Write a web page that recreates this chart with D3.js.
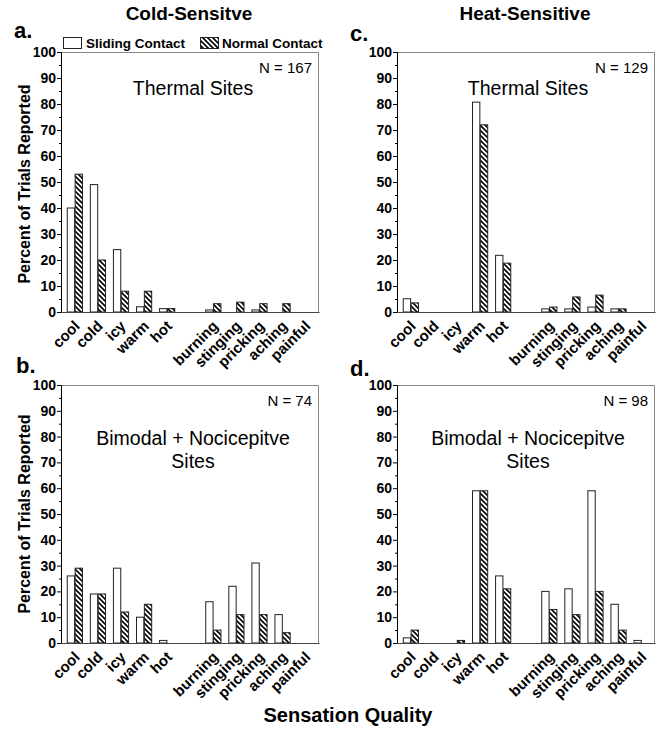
<!DOCTYPE html>
<html><head><meta charset="utf-8">
<script src="https://cdn.jsdelivr.net/npm/d3@7"></script>
<style>body{margin:0;background:#fff} svg{display:block}</style>
</head><body>
<script>
// ---- data ----
const categories = ["cool","cold","icy","warm","hot","burning","stinging","pricking","aching","painful"];
const seriesNames = ["Sliding Contact","Normal Contact"];
const coldThermalSliding = [40, 49, 24, 2, 1.3, 0.8, 0, 0.8, 0, 0];
const coldThermalNormal  = [53, 20, 8, 8, 1.3, 3.2, 3.8, 3.2, 3.2, 0];
const heatThermalSliding = [5.1, 0, 0, 80.7, 21.8, 1.2, 1.2, 1.9, 1.2, 0];
const heatThermalNormal  = [3.5, 0, 0, 72, 18.8, 1.9, 5.8, 6.5, 1.2, 0];
const coldBimodalSliding = [26, 19, 29, 10, 1, 16, 22, 31, 11, 0];
const coldBimodalNormal  = [29, 19, 12, 15, 0, 5, 11, 11, 4, 0];
const heatBimodalSliding = [2, 0, 0, 59, 26, 20, 21, 59, 15, 1];
const heatBimodalNormal  = [5, 0, 1, 59, 21, 13, 11, 20, 5, 0];
const yTicks = [0,10,20,30,40,50,60,70,80,90,100];
const yMinorTicks = [5,15,25,35,45,55,65,75,85,95];
const columnTitles = ["Cold-Sensitve","Heat-Sensitive"];

const FONT = "'Liberation Sans', Arial, Helvetica, sans-serif";
const W = 664, H = 732;
const svg = d3.select("body").append("svg").attr("width", W).attr("height", H)
  .style("font-family", FONT);

// hatch pattern
const P = 5;
const defs = svg.append("defs");
const pat = defs.append("pattern").attr("id","hatch").attr("patternUnits","userSpaceOnUse")
  .attr("width",P).attr("height",P);
pat.append("rect").attr("width",P).attr("height",P).attr("fill","#fff");
pat.append("path").attr("d",`M-1,-1 L${P+1},${P+1} M-1,${P-1} L1,${P+1} M${P-1},-1 L${P+1},1`)
  .attr("stroke","#000").attr("stroke-width",1.6);

const slots = categories.slice(0,5).concat(["__gap"], categories.slice(5));

function drawPanel(p){
  const g = svg.append("g").attr("transform",`translate(${p.x},${p.y})`);
  const x = d3.scaleBand().domain(slots).range([0,p.w]).paddingInner(0.32).paddingOuter(0.25);
  const xs = d3.scaleBand().domain(seriesNames).range([0,x.bandwidth()]);
  const y = d3.scaleLinear().domain([0,100]).range([p.h,0]);

  // frame top/right
  g.append("path").attr("d",`M0,0.5 H${p.w-0.5} V${p.h}`).attr("fill","none").attr("stroke","#888").attr("stroke-width",1);

  // bars
  const data = [];
  categories.forEach((c,i)=>{
    data.push({c, s:seriesNames[0], v:p.sliding[i]});
    data.push({c, s:seriesNames[1], v:p.normal[i]});
  });
  g.selectAll("rect.bar").data(data.filter(d=>d.v>0)).join("rect").attr("class","bar")
    .attr("x", d=>x(d.c)+xs(d.s)+0.5)
    .attr("width", xs.bandwidth()-0.5)
    .attr("y", d=>y(d.v))
    .attr("height", d=>p.h-y(d.v))
    .attr("fill", d=>d.s===seriesNames[0] ? "#fff" : "url(#hatch)")
    .attr("stroke","#222").attr("stroke-width",1);

  // y axis
  const ya = g.append("g").call(d3.axisLeft(y).tickValues(yTicks).tickSize(4).tickPadding(1).tickFormat(d3.format("d")));
  ya.select(".domain").attr("stroke","#000");
  ya.selectAll("text").attr("font-family",FONT).attr("font-weight","bold").attr("font-size",14).attr("fill","#000");
  g.append("g").selectAll("line").data(yMinorTicks).join("line")
    .attr("x1",-2).attr("x2",0).attr("y1",d=>y(d)+0.5).attr("y2",d=>y(d)+0.5).attr("stroke","#000");

  // x axis
  const xa = g.append("g").attr("transform",`translate(0,${p.h})`)
    .call(d3.axisBottom(x).tickValues(categories).tickSize(0).tickFormat(""));
  xa.select(".domain").attr("stroke","#444");
  g.append("g").selectAll("text").data(categories).join("text")
    .attr("transform", d=>`translate(${x(d)+x.bandwidth()/2+6},${p.h+15}) rotate(-45)`)
    .attr("text-anchor","end").attr("font-weight","bold").attr("font-size",15).text(d=>d);

  // annotations
  g.append("text").attr("x",p.w-7).attr("y",21).attr("text-anchor","end").attr("font-size",15).text(p.n);
  p.site.forEach((t,i)=>{
    g.append("text").attr("x",p.cx).attr("y",p.siteY[i]).attr("text-anchor","middle").attr("font-size",19.5).text(t);
  });
  // panel letter
  svg.append("text").attr("x",p.lx).attr("y",p.ly).attr("font-weight","bold").attr("font-size",22).text(p.letter);
}

const panels = [
  {letter:"a.", lx:14, ly:38, x:61, y:52, w:258, h:260, sliding:coldThermalSliding, normal:coldThermalNormal, n:"N = 167", site:["Thermal Sites"], siteY:[43], cx:132},
  {letter:"c.", lx:350, ly:41, x:397, y:52, w:258, h:260, sliding:heatThermalSliding, normal:heatThermalNormal, n:"N = 129", site:["Thermal Sites"], siteY:[43], cx:131},
  {letter:"b.", lx:16, ly:373, x:61, y:385, w:258, h:258, sliding:coldBimodalSliding, normal:coldBimodalNormal, n:"N = 74", site:["Bimodal + Nocicepitve","Sites"], siteY:[60,83], cx:132},
  {letter:"d.", lx:350, ly:376, x:397, y:385, w:258, h:258, sliding:heatBimodalSliding, normal:heatBimodalNormal, n:"N = 98", site:["Bimodal + Nocicepitve","Sites"], siteY:[60,83], cx:131}
];
panels.forEach(drawPanel);

// column titles
svg.append("text").attr("x",189).attr("y",20).attr("text-anchor","middle").attr("font-weight","bold").attr("font-size",19).text(columnTitles[0]);
svg.append("text").attr("x",525).attr("y",20).attr("text-anchor","middle").attr("font-weight","bold").attr("font-size",19).text(columnTitles[1]);

// legend
const lg = svg.append("g");
lg.append("rect").attr("x",63.5).attr("y",37.5).attr("width",18).attr("height",11).attr("fill","#fff").attr("stroke","#222");
lg.append("text").attr("x",86).attr("y",48).attr("font-weight","bold").attr("font-size",13.5).text(seriesNames[0]);
lg.append("rect").attr("x",200.5).attr("y",37.5).attr("width",18).attr("height",11).attr("fill","url(#hatch)").attr("stroke","#222");
lg.append("text").attr("x",222).attr("y",48).attr("font-weight","bold").attr("font-size",13.5).text(seriesNames[1]);

// y axis titles
[184, 514].forEach(cy=>{
  svg.append("text").attr("transform",`translate(30,${cy}) rotate(-90)`).attr("text-anchor","middle")
    .attr("font-weight","bold").attr("font-size",16).text("Percent of Trials Reported");
});
// x axis title
svg.append("text").attr("x",348).attr("y",722).attr("text-anchor","middle").attr("font-weight","bold").attr("font-size",20).text("Sensation Quality");
</script>
</body></html>
